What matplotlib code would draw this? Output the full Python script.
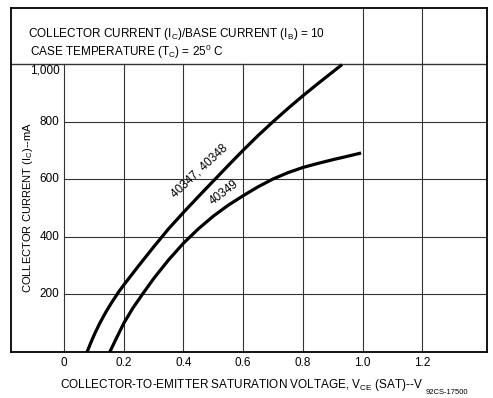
import numpy as np
import matplotlib
matplotlib.use("Agg")
import matplotlib.pyplot as plt

plt.rcParams['font.family'] = ['Liberation Sans', 'DejaVu Sans']
plt.rcParams['mathtext.fontset'] = 'custom'
plt.rcParams['mathtext.rm'] = 'Liberation Sans'
plt.rcParams['mathtext.it'] = 'Liberation Sans'
plt.rcParams['mathtext.bf'] = 'Liberation Sans'

# VCE(sat) in volts vs collector current in mA
v_40347 = [0.077, 0.085, 0.095, 0.105, 0.12, 0.14, 0.16, 0.181, 0.2, 0.25, 0.3, 0.35,
           0.4, 0.45, 0.5, 0.55, 0.6, 0.65, 0.7, 0.75, 0.8, 0.85, 0.9, 0.927]
ic_40347 = [0, 21, 46, 69, 101, 139, 173, 206, 233, 300, 365, 428,
            485, 540, 594, 648, 701, 752, 800, 846, 890, 932, 973, 995]

v_40349 = [0.153, 0.165, 0.18, 0.2, 0.23, 0.262, 0.3, 0.35, 0.4, 0.45, 0.5, 0.55,
           0.6, 0.65, 0.7, 0.75, 0.8, 0.85, 0.9, 0.95, 0.99]
ic_40349 = [0, 26, 58, 100, 152, 200, 255, 320, 378, 428, 472, 510,
            543, 574, 601, 623, 641, 655, 668, 680, 690]

xticks = [0, 0.2, 0.4, 0.6, 0.8, 1.0, 1.2]
xtick_labels = ['0', '0.2', '0.4', '0.6', '0.8', '1.0', '1.2']
yticks = [200, 400, 600, 800, 1000]
ytick_labels = ['200', '400', '600', '800', '1,000']

fig = plt.figure(figsize=(4.93, 3.98), dpi=100)
ax = fig.add_axes([11/493, 1 - 352/398, 476/493, 344/398])
xmin, xmax = -0.178, 1.417
ymin, ymax = 0, 1195
ax.set_xlim(xmin, xmax)
ax.set_ylim(ymin, ymax)
ax.set_xticks([])
ax.set_yticks([])
for s in ax.spines.values():
    s.set_linewidth(1.3)

gc = '#333333'
glw = 0.8
# vertical grid: low voltages stop under the header box
for x in xticks:
    top = 1000 if x < 0.9 else ymax
    ax.plot([x, x], [0, top], color=gc, lw=glw)
for y in yticks[:-1]:
    ax.plot([0, xmax], [y, y], color=gc, lw=glw)
ax.plot([xmin, xmax], [1000, 1000], color=gc, lw=1.0)

ax.plot(v_40347, ic_40347, color='black', lw=2.3, solid_joinstyle='round')
ax.plot(v_40349, ic_40349, color='black', lw=2.3, solid_joinstyle='round')

ax.text(0.452, 628, '40347, 40348', rotation=43, ha='center', va='center',
        rotation_mode='anchor', fontsize=8.5)
ax.text(0.535, 553, '40349', rotation=37, ha='center', va='center',
        rotation_mode='anchor', fontsize=8.5)

# tick labels
for x, lab in zip(xticks, xtick_labels):
    ax.text(x, -37, lab, ha='center', va='center', fontsize=8.5)
for y, lab in zip(yticks, ytick_labels):
    yy = y - 22 if y == 1000 else y
    ax.text(-0.015, yy, lab, ha='right', va='center', fontsize=8.5)

ax.text(-0.12, 1104, r'COLLECTOR CURRENT (I$_\mathrm{C}$)/BASE CURRENT (I$_\mathrm{B}$) = 10',
        ha='left', va='center', fontsize=8.5)
ax.text(-0.113, 1042, r'CASE TEMPERATURE (T$_\mathrm{C}$) = 25$^\mathrm{0}$ C',
        ha='left', va='center', fontsize=8.5)

fig.text(28/493, 1 - 207/398, r'COLLECTOR CURRENT (I$_\mathrm{C}$)--mA', rotation=90,
         ha='center', va='center', fontsize=8)
fig.text(60/493, 1 - 385/398, r'COLLECTOR-TO-EMITTER SATURATION VOLTAGE, V$_\mathrm{CE}$ (SAT)--V',
         ha='left', va='center', fontsize=8.5)
fig.text(426/493, 1 - 393/398, '92CS-17500', ha='left', va='center', fontsize=5.5)

fig.savefig('out.png', dpi=100)
